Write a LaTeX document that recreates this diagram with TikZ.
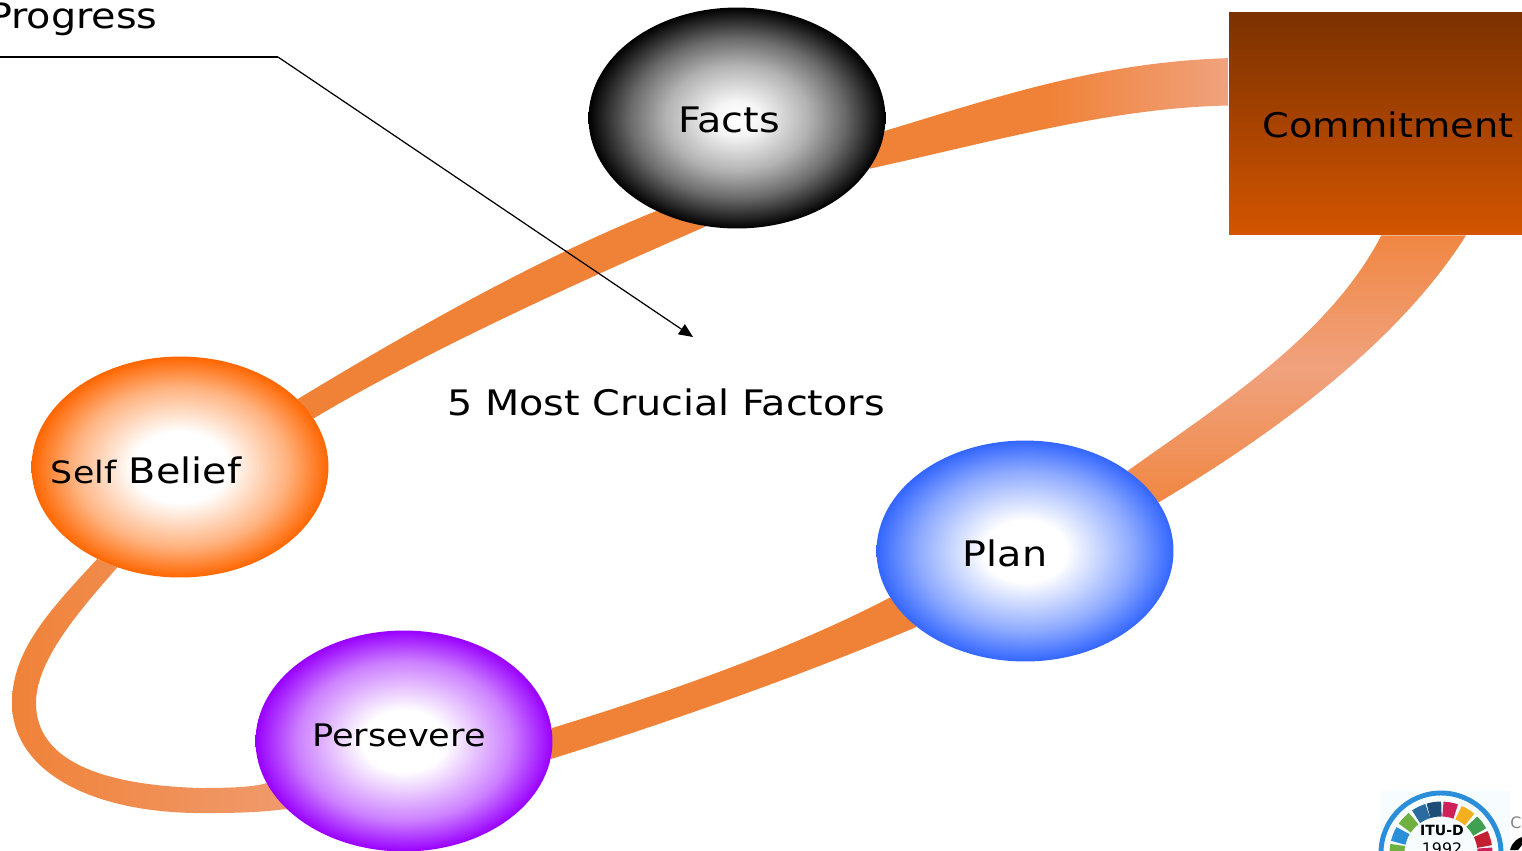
\documentclass[tikz,border=0pt]{standalone}
\usepackage{fontspec}
\setmainfont{DejaVu Sans}
\newfontfamily\widefont[FakeStretch=1.13]{DejaVu Sans}
\usetikzlibrary{arrows.meta,backgrounds,shapes.geometric}
\definecolor{bandorange}{HTML}{F08238}
\definecolor{bandlight}{HTML}{F0A27E}
\definecolor{factsedge}{HTML}{000000}
\definecolor{beliefedge}{HTML}{FF6600}
\definecolor{planedge}{HTML}{3366FF}
\definecolor{persevereedge}{HTML}{9900FF}
\definecolor{committop}{HTML}{7B3100}
\definecolor{commitbottom}{HTML}{D35500}
\definecolor{logoblue}{HTML}{2A8FD8}
\definecolor{logogreen}{HTML}{6FB040}
\definecolor{logoteal}{HTML}{2B6CA0}
\definecolor{logonavy}{HTML}{1E4E78}
\definecolor{logopink}{HTML}{D0205A}
\definecolor{logoamber}{HTML}{F5B020}
\definecolor{logoleaf}{HTML}{40A050}
\definecolor{logored}{HTML}{C02030}
\pgfdeclareradialshading{factsorb}{\pgfpointorigin}{color(0bp)=(white); color(4bp)=(white!96!black); color(12bp)=(white!70!black); color(18bp)=(white!42!black); color(25bp)=(factsedge); color(100bp)=(factsedge)}
\pgfdeclareradialshading{beliefmorb}{\pgfpointorigin}{color(0bp)=(white); color(8bp)=(white); color(18bp)=(beliefedge!50!white); color(25bp)=(beliefedge); color(100bp)=(beliefedge)}
\pgfdeclareradialshading{planorb}{\pgfpointorigin}{color(0bp)=(white); color(7bp)=(white); color(18bp)=(planedge!55!white); color(25bp)=(planedge); color(100bp)=(planedge)}
\pgfdeclareradialshading{persevereorb}{\pgfpointorigin}{color(0bp)=(white); color(7bp)=(white); color(18bp)=(persevereedge!50!white); color(25bp)=(persevereedge); color(100bp)=(persevereedge)}
\tikzset{
  orb/.style={ellipse, minimum width=5.94cm, minimum height=4.42cm, inner sep=0pt},
  lbl/.style={inner sep=0pt, font=\widefont\fontsize{20}{24}\selectfont},
  thinline/.style={line width=0.7pt},
}
\begin{document}
\begin{tikzpicture}[x=0.02cm,y=-0.02cm]
\useasboundingbox (0,0) rectangle (1522,850);
\clip (0,0) rectangle (1522,850);

\node[orb, shading=factsorb] (facts) at (737,118) {};
\node[orb, shading=beliefmorb] (belief) at (180,467) {};
\node[orb, shading=planorb] (plan) at (1025,551) {};
\node[orb, shading=persevereorb] (persevere) at (404,741) {};
\node[rectangle, inner sep=0pt, minimum width=5.86cm, minimum height=4.46cm, top color=committop, bottom color=commitbottom] (commit) at (1375.5,123.5) {};

\node[lbl] (factstxt) at (729,120) {Facts};
\node[lbl] (belieftxt) at (146,470) {{\fontsize{17.5}{24}\selectfont Self} Belief};
\node[lbl] (plantxt) at (1005,553) {Plan};
\node[lbl, font=\widefont\fontsize{17.7}{24}\selectfont] (perseveretxt) at (399,735) {Persevere};
\node[lbl, font=\widefont\fontsize{19.3}{24}\selectfont] (committxt) at (1388,125) {Commitment};
\node[lbl] (factorstxt) at (666,402) {5 Most Crucial Factors};
\node[lbl, anchor=base east] (progresstxt) at (158,28) {Progress};

\coordinate (linestart) at (0,57);
\coordinate (linebend) at (278,57);
\coordinate (lineend) at (693,337);
\draw[thinline] (linestart) -- (linebend);
\draw[thinline,-{Triangle[length=2.8mm,width=2.4mm]}] (linebend) -- (lineend);

% logo
\fill[white!97!cyan] (1380,791) rectangle (1510,850);
\draw[logoblue, line width=2.8pt] (1441,853) circle (60);
\foreach \ang/\col in {178/logogreen, 158/logoblue, 137/logogreen, 116/logoteal, 98/logonavy, 79/logopink, 58/logoamber, 37/logoleaf, 17/logored, -2/logopink}
  \draw[\col, line width=8.5pt] (1441,853) ++(-\ang-8.5:44) arc (-\ang-8.5:-\ang+8.5:44);
\node[inner sep=0pt, font=\bfseries\fontsize{8}{9}\selectfont] (logotitle) at (1442,830) {ITU-D};
\node[inner sep=0pt, font=\fontsize{9}{10}\selectfont] (logoyear) at (1442,849) {1992};
\node[inner sep=0pt, text=gray, font=\fontsize{9}{10}\selectfont] (logoside) at (1516,823) {C};
\fill (1510,850) .. controls (1512,842) and (1518,838) .. (1522,837) -- (1522,845) -- (1518,850) -- cycle;

\begin{pgfonlayer}{background}
\shade[left color=bandorange, right color=bandlight, middle color=bandorange] (facts.-5) .. controls (1000,96) and (1100,62) .. (commit.156.6) -- (commit.173.6) .. controls (1110,108) and (1000,140) .. (facts.-21) -- cycle;
\fill[bandorange] (facts.-131.7) .. controls (540,258) and (420,325) .. (belief.30) -- (belief.20.7) .. controls (420,355) and (560,290) .. (facts.-106) -- cycle;
\shade[left color=bandorange, right color=bandlight!75!bandorange] (belief.-132.4) .. controls (50,610) and (12,650) .. (12,703) .. controls (12,770) and (90,815) .. (210,813) .. controls (240,813) and (265,812) .. (persevere.210.5) -- (persevere.197.8) .. controls (255,787) and (230,788) .. (200,788) .. controls (100,785) and (36,760) .. (36,703) .. controls (36,660) and (80,610) .. (belief.-122.8) -- cycle;
\fill[bandorange] (persevere.5.4) .. controls (660,695) and (790,650) .. (plan.199.2) -- (plan.215.7) .. controls (790,680) and (660,725) .. (persevere.-7.3) -- cycle;
\shade[top color=bandorange!85!bandlight, bottom color=bandorange!85!bandlight, middle color=bandlight] (plan.38.5) .. controls (1220,405) and (1330,335) .. (commit.-87.7) -- (commit.-51.9) .. controls (1400,340) and (1280,430) .. (plan.20.7) -- cycle;
\end{pgfonlayer}
\end{tikzpicture}
\end{document}
